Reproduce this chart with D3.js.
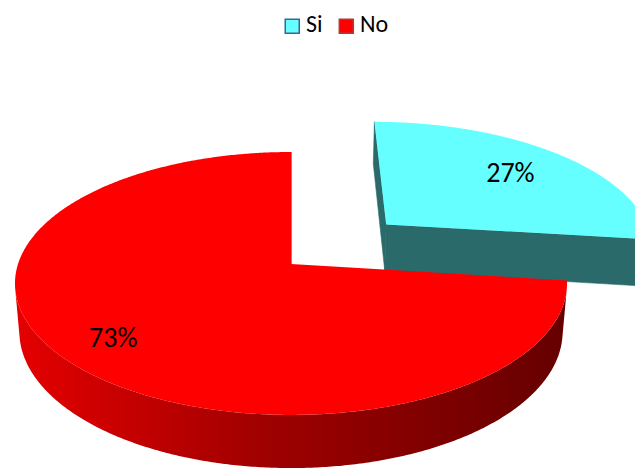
<!DOCTYPE html>
<html>
<head>
<meta charset="utf-8">
<script src="https://cdn.jsdelivr.net/npm/d3@7"></script>
<style>
  html, body { margin: 0; padding: 0; background: #ffffff; }
  svg { display: block; }
  text { font-family: Carlito, Calibri, Lato, sans-serif; fill: #000; }
</style>
</head>
<body>
<svg id="chart" width="635" height="473"></svg>
<script>
// ---- data ----
const categories = ["Si", "No"];
const values = [27, 73];
const percentLabels = ["27%", "73%"];

// ---- styles ----
const topColors = ["#66FFFF", "#FF0000"];
const legendStroke = ["#3C6494", "#A04040"];
const explodeBy = [0.487, 0];      // radial offset of each slice, in radii
const labelRadius = [0.71, 0.8];   // label distance from slice apex, in radii

const W = 635, H = 473;
const svg = d3.select("#chart");

// ---- simple perspective camera looking down on a unit-radius pie ----
const tilt = 28.1 * Math.PI / 180;
const cosT = Math.cos(tilt), sinT = Math.sin(tilt);
const dist = 5.96, focal = 1627, cx = 291, cy = 264;
const thickness = 0.2015;
const camPos = [0, dist * cosT, dist * sinT];

// u: right, v: toward viewer, w: up
function project(u, v, w) {
  const depth = dist - (v * cosT + w * sinT);
  const up = -v * sinT + w * cosT;
  return [cx + focal * u / depth, cy - focal * up / depth];
}
function facesCamera(p, n) {
  return n[0] * (camPos[0] - p[0]) + n[1] * (camPos[1] - p[1]) + n[2] * (camPos[2] - p[2]) > 0;
}

const pie = d3.pie().sort(null).value(d => d);
const arcs = pie(values).map((a, i) => {
  const mid = (a.startAngle + a.endAngle) / 2;
  return {
    ...a, i, mid,
    off: [explodeBy[i] * Math.sin(mid), -explodeBy[i] * Math.cos(mid)]
  };
});

const line = d3.line();
const defs = svg.append("defs");
const step = Math.PI / 360;

function rim(a, off, w) {
  return project(off[0] + Math.sin(a), off[1] - Math.cos(a), w);
}
function angles(a0, a1) {
  const n = Math.max(2, Math.ceil((a1 - a0) / step));
  return d3.range(n + 1).map(k => a0 + (a1 - a0) * k / n);
}

// farther slices are painted first
const order = arcs.slice().sort((a, b) => a.off[1] - b.off[1]);
const gPie = svg.append("g");

order.forEach(s => {
  const base = d3.color(topColors[s.i]);
  const cutColor = base.darker(2.45).formatHex();
  const off = s.off;
  const g = gPie.append("g").attr("class", "slice slice-" + categories[s.i]);

  // radial cut faces
  [[s.startAngle, -1], [s.endAngle, 1]].forEach(([a, sign]) => {
    const n = [sign * Math.cos(a), sign * Math.sin(a), 0];
    const pMid = [off[0] + 0.5 * Math.sin(a), off[1] - 0.5 * Math.cos(a), -thickness / 2];
    if (!facesCamera(pMid, n)) return;
    const pts = [
      project(off[0], off[1], 0),
      rim(a, off, 0),
      rim(a, off, -thickness),
      project(off[0], off[1], -thickness)
    ];
    g.append("path").attr("d", line(pts) + "Z")
      .attr("fill", cutColor).attr("stroke", cutColor).attr("stroke-width", 0.6);
  });

  // outer wall, split into runs that face the camera
  const runs = [];
  let cur = null;
  angles(s.startAngle, s.endAngle).forEach(a => {
    const p = [off[0] + Math.sin(a), off[1] - Math.cos(a), 0];
    const n = [Math.sin(a), -Math.cos(a), 0];
    if (facesCamera(p, n)) {
      if (!cur) { cur = []; runs.push(cur); }
      cur.push(a);
    } else cur = null;
  });
  runs.forEach((run, r) => {
    if (run.length < 2) return;
    const topPts = run.map(a => rim(a, off, 0));
    const botPts = run.slice().reverse().map(a => rim(a, off, -thickness));
    const all = topPts.concat(botPts);
    const xs = d3.extent(all, p => p[0]);
    const gid = "wall-" + s.i + "-" + r;
    const grad = defs.append("linearGradient").attr("id", gid)
      .attr("gradientUnits", "userSpaceOnUse")
      .attr("x1", xs[0]).attr("x2", xs[1]).attr("y1", 0).attr("y2", 0);
    [[0, 0.3], [0.45, 1.3], [1, 2.6]].forEach(([o, k]) =>
      grad.append("stop").attr("offset", o).attr("stop-color", base.darker(k).formatHex()));
    g.append("path").attr("d", line(all) + "Z")
      .attr("fill", "url(#" + gid + ")");
  });

  // top face
  const topPts = [project(off[0], off[1], 0)]
    .concat(angles(s.startAngle, s.endAngle).map(a => rim(a, off, 0)));
  g.append("path").attr("d", line(topPts) + "Z")
    .attr("fill", base.formatHex());
});

// ---- percentage labels ----
svg.append("g").selectAll("text")
  .data(arcs)
  .join("text")
  .attr("transform", d => {
    const r = labelRadius[d.i];
    const p = project(d.off[0] + r * Math.sin(d.mid), d.off[1] - r * Math.cos(d.mid), 0);
    return `translate(${p[0]},${p[1]})`;
  })
  .attr("text-anchor", "middle")
  .attr("dy", "0.32em")
  .style("font-size", "28px")
  .text(d => percentLabels[d.i]);

// ---- legend ----
const legend = svg.append("g").attr("transform", "translate(284.5,18.5)");
let lx = 0;
categories.forEach((c, i) => {
  const item = legend.append("g").attr("transform", `translate(${lx},0)`);
  item.append("rect").attr("x", 0.75).attr("y", 0.75).attr("width", 14).attr("height", 14)
    .attr("fill", topColors[i]).attr("stroke", legendStroke[i]).attr("stroke-width", 1.5);
  const t = item.append("text").attr("x", 21.5).attr("y", 13.8)
    .style("font-size", "24px").text(c);
  lx += 21.5 + t.node().getComputedTextLength() + 16;
});
</script>
</body>
</html>
